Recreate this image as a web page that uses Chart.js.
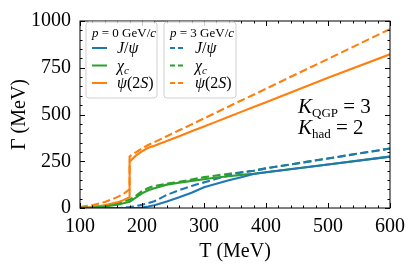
<!DOCTYPE html>
<html lang="en">
<head>
    <meta charset="UTF-8">
    <title>Gamma vs T</title>
    <script src="https://cdn.jsdelivr.net/npm/chart.js"></script>
    <style>
        body { margin: 0; background: #fff; }
        .chart-container { width: 412px; height: 271px; }
    </style>
</head>
<body>
    <div class="chart-container">
        <canvas id="gammaChart" width="412" height="271"></canvas>
    </div>
    <script>
        // temperature grid (MeV); 180 appears twice for the jump at T_c
        const temps = [100, 120, 140, 160, 170, 180, 180, 190, 200, 210, 220, 240, 260, 280, 300, 320, 340, 360, 380, 400, 500, 600];

        // p = 0 GeV/c
        const jpsiP0  = [0, 0, 0, 0, 0, 0, 0, 0, 2, 8, 15, 35, 57, 82, 111, 130, 148, 165, 182, 191, 233, 275];
        const chicP0  = [0, 3, 8, 18, 25, 33, 33, 55, 78, 95, 106, 125, 135, 145, 154, 163, 170, 177, 183, 191, 233, 275];
        const psi2sP0 = [0, 5, 15, 30, 42, 58, 248, 280, 303, 322, 333, 358, 384, 410, 436, 462, 488, 514, 540, 566, 696, 822];

        // p = 3 GeV/c
        const jpsiP3  = [0, 0, 0, 0, 2, 5, 5, 10, 17, 26, 36, 70, 95, 118, 137, 156, 174, 190, 199, 212, 265, 318];
        const chicP3  = [0, 5, 13, 25, 33, 45, 45, 65, 90, 107, 118, 130, 140, 152, 165, 174, 183, 191, 199, 212, 265, 318];
        const psi2sP3 = [5, 15, 32, 58, 75, 100, 275, 298, 318, 337, 352, 384, 416, 447, 479, 511, 543, 575, 606, 638, 797, 957];

        const xTicks = [100, 200, 300, 400, 500, 600];
        const yTicks = [0, 250, 500, 750, 1000];

        const BLUE = '#1f77b4', ORANGE = '#ff7f0e', GREEN = '#2ca02c';
        const SERIF = '"Liberation Serif", "DejaVu Serif", serif';

        function pts(arr) {
            return temps.map((t, i) => ({ x: t, y: arr[i] }));
        }

        function series(label, arr, color, dashed) {
            return {
                label: label,
                data: pts(arr),
                borderColor: color,
                backgroundColor: color,
                borderWidth: 2.1,
                borderDash: dashed ? [8, 3.5] : [],
                pointRadius: 0,
                tension: 0,
                fill: false
            };
        }

        // draw text made of pieces [text, italic, size, dy]
        function richText(ctx, parts, x, y) {
            let cx = x;
            parts.forEach(p => {
                ctx.font = (p[1] ? 'italic ' : '') + p[2] + 'px ' + SERIF;
                ctx.fillText(p[0], cx, y + (p[3] || 0));
                cx += ctx.measureText(p[0]).width;
            });
        }

        function roundRect(ctx, x, y, w, h, r) {
            ctx.beginPath();
            ctx.moveTo(x + r, y);
            ctx.lineTo(x + w - r, y);
            ctx.quadraticCurveTo(x + w, y, x + w, y + r);
            ctx.lineTo(x + w, y + h - r);
            ctx.quadraticCurveTo(x + w, y + h, x + w - r, y + h);
            ctx.lineTo(x + r, y + h);
            ctx.quadraticCurveTo(x, y + h, x, y + h - r);
            ctx.lineTo(x, y + r);
            ctx.quadraticCurveTo(x, y, x + r, y);
            ctx.closePath();
        }

        const entryNames = [
            [['J', true, 16], ['/', false, 16], ['ψ', true, 16]],
            [['χ', true, 16], ['c', true, 11, 3]],
            [['ψ', true, 16], ['(2', false, 16], ['S', true, 16], [')', false, 16]]
        ];
        const entryColors = [BLUE, GREEN, ORANGE];

        function drawLegend(ctx, bx, by, bw, bh, pVal, dashed) {
            ctx.save();
            roundRect(ctx, bx, by, bw, bh, 3);
            ctx.fillStyle = 'rgba(255,255,255,0.8)';
            ctx.fill();
            ctx.strokeStyle = '#d0d0d0';
            ctx.lineWidth = 1;
            ctx.stroke();
            ctx.fillStyle = '#000';
            ctx.textBaseline = 'alphabetic';
            ctx.textAlign = 'left';
            richText(ctx, [['p', true, 13], [' = ' + pVal + ' GeV/', false, 13], ['c', true, 13]], bx + 6, by + 15);
            entryNames.forEach((parts, i) => {
                const ly = by + 26 + i * 17.5;
                ctx.strokeStyle = entryColors[i];
                ctx.lineWidth = 2;
                ctx.setLineDash(dashed ? [5, 3] : []);
                ctx.beginPath();
                ctx.moveTo(bx + 6, ly);
                ctx.lineTo(bx + 21, ly);
                ctx.stroke();
                ctx.setLineDash([]);
                ctx.fillStyle = '#000';
                richText(ctx, parts, bx + 31, ly + 5);
            });
            ctx.restore();
        }

        const decorPlugin = {
            id: 'decor',
            afterDatasetsDraw(chart) {
                const ctx = chart.ctx;
                const a = chart.chartArea;
                const xs = chart.scales.x, ys = chart.scales.y;
                ctx.save();
                ctx.strokeStyle = '#000';
                ctx.lineWidth = 1;
                ctx.strokeRect(a.left, a.top, a.right - a.left, a.bottom - a.top);
                ctx.beginPath();
                for (let t = 100; t <= 600; t += 20) {
                    const px = Math.round(xs.getPixelForValue(t)) + 0.5;
                    const len = (t % 100 === 0) ? 5 : 2.5;
                    ctx.moveTo(px, a.bottom); ctx.lineTo(px, a.bottom - len);
                    ctx.moveTo(px, a.top); ctx.lineTo(px, a.top + len);
                }
                for (let v = 0; v <= 1000; v += 50) {
                    const py = Math.round(ys.getPixelForValue(v)) + 0.5;
                    const len = (v % 250 === 0) ? 5 : 2.5;
                    ctx.moveTo(a.left, py); ctx.lineTo(a.left + len, py);
                    ctx.moveTo(a.right, py); ctx.lineTo(a.right - len, py);
                }
                ctx.stroke();

                drawLegend(ctx, 86, 22, 71, 76, 0, false);
                drawLegend(ctx, 164, 22, 72, 76, 3, true);

                ctx.fillStyle = '#000';
                richText(ctx, [['K', true, 21], ['QGP', false, 13, 4], [' = 3', false, 21]], 298, 113);
                richText(ctx, [['K', true, 21], ['had', false, 13, 4], [' = 2', false, 21]], 298, 134);
                ctx.restore();
            }
        };

        const ctx = document.getElementById('gammaChart').getContext('2d');
        new Chart(ctx, {
            type: 'line',
            data: {
                datasets: [
                    series('J/ψ p=0', jpsiP0, BLUE, false),
                    series('χc p=0', chicP0, GREEN, false),
                    series('ψ(2S) p=0', psi2sP0, ORANGE, false),
                    series('J/ψ p=3', jpsiP3, BLUE, true),
                    series('χc p=3', chicP3, GREEN, true),
                    series('ψ(2S) p=3', psi2sP3, ORANGE, true)
                ]
            },
            options: {
                responsive: false,
                animation: false,
                layout: { padding: { top: 15, right: 22, left: 0, bottom: 0 } },
                plugins: { legend: { display: false }, tooltip: { enabled: false } },
                scales: {
                    x: {
                        type: 'linear',
                        min: 100,
                        max: 600,
                        afterBuildTicks: s => { s.ticks = xTicks.map(v => ({ value: v })); },
                        afterFit: s => { s.height = 63; },
                        grid: { display: false, drawTicks: false },
                        border: { display: false },
                        ticks: { padding: 7, color: '#000', font: { family: SERIF, size: 20 }, maxRotation: 0, callback: v => String(v) },
                        title: { display: true, text: 'T (MeV)', color: '#000', font: { family: SERIF, size: 20 }, padding: { top: 0, bottom: 7 } }
                    },
                    y: {
                        min: 0,
                        max: 1000,
                        afterBuildTicks: s => { s.ticks = yTicks.map(v => ({ value: v })); },
                        afterFit: s => { s.width = 80; },
                        grid: { display: false, drawTicks: false },
                        border: { display: false },
                        ticks: { padding: 9, color: '#000', font: { family: SERIF, size: 20 }, callback: v => String(v) },
                        title: { display: true, text: 'Γ (MeV)', color: '#000', font: { family: SERIF, size: 20 }, padding: { top: 8, bottom: 0 } }
                    }
                }
            },
            plugins: [decorPlugin]
        });
    </script>
</body>
</html>
